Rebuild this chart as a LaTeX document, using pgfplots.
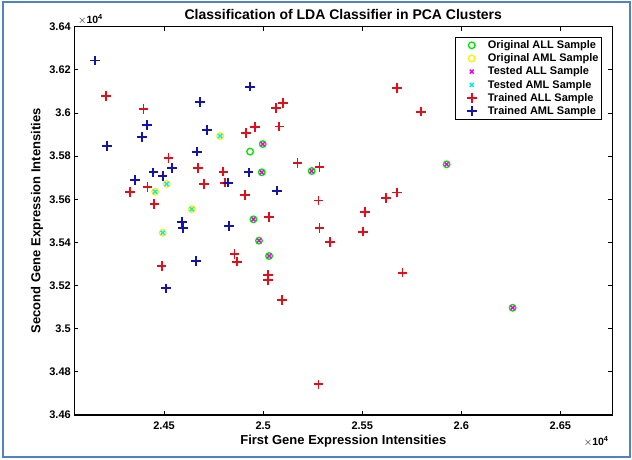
\documentclass[border=0pt]{standalone}
\usepackage{pgfplots}
\pgfplotsset{compat=1.18}
\usepackage{fontspec}
\setmainfont{Liberation Sans}
\definecolor{mblue}{RGB}{20,20,170}
\definecolor{mred}{RGB}{225,15,25}
\definecolor{mgreen}{RGB}{0,225,0}
\definecolor{myellow}{RGB}{250,240,0}
\definecolor{mcyan}{RGB}{0,235,235}
\definecolor{mmag}{RGB}{235,0,235}
\definecolor{frameblue}{RGB}{80,130,195}
\pgfplotsset{mylegimg/.style={legend image code/.code={\path (-5bp,0bp) (22bp,0bp);\draw[mark repeat=2,mark phase=2,##1] plot coordinates {(0bp,0bp) (8bp,0bp) (16bp,0bp)};}}}
\begin{document}
\begin{tikzpicture}
\useasboundingbox (0,0) rectangle (632bp,460bp);
\draw[frameblue, line width=2bp] (2.5bp,2.5bp) rectangle (629.5bp,457.5bp);
\begin{axis}[
  at={(74.3bp,45bp)}, anchor=south west,
  scale only axis, width=538bp, height=388.3bp,
  xmin=2.4047, xmax=2.6762, ymin=3.46, ymax=3.64,
  xtick={2.45,2.5,2.55,2.6,2.65},
  ytick={3.46,3.48,3.5,3.52,3.54,3.56,3.58,3.6,3.62,3.64},
  /pgf/number format/assume math mode=true,
  /pgf/number format/precision=2,
  tick label style={font=\fontsize{11bp}{13bp}\selectfont\bfseries},
  xticklabel style={yshift=-3bp},
  major tick length=4bp,
  tick style={black, line width=0.8pt},
  axis line style={line width=1.2pt},
  xlabel={First Gene Expression Intensities},
  xlabel style={at={(axis description cs:0.5,-0.067)}, anchor=center, font=\fontsize{13bp}{15bp}\selectfont\bfseries},
  ylabel={Second Gene Expression Intensities},
  ylabel style={at={(axis description cs:-0.0693,0.5)}, anchor=center, font=\fontsize{13bp}{15bp}\selectfont\bfseries},
  legend style={at={(axis description cs:0.981,0.9735)}, anchor=north east,
    font=\fontsize{11bp}{12bp}\selectfont\bfseries, draw=black, line width=0.8pt,
    row sep=1.3bp, inner sep=2bp, nodes={inner sep=1.2bp}, cells={anchor=west},
    /tikz/every even column/.append style={column sep=4bp}},
  clip=false,
]
\addplot[only marks, mark=o, mgreen, mark size=3.3bp, line width=1.3bp, mylegimg] coordinates {
(2.4998,3.5856) (2.5245,3.5731) (2.4993,3.5725) (2.5926,3.5762) (2.4951,3.5507)
(2.4979,3.5408) (2.5030,3.5337) (2.6259,3.5097) (2.4934,3.5821)};
\addlegendentry{Original ALL Sample}
\addplot[only marks, mark=o, myellow, mark size=3.3bp, line width=1.3bp, mylegimg] coordinates {
(2.4783,3.5893) (2.4455,3.5635) (2.4513,3.5671) (2.4640,3.5554) (2.4493,3.5445)};
\addlegendentry{Original AML Sample}
\addplot[only marks, mark=x, mmag, mark size=2.8bp, line width=1.4bp, mylegimg] coordinates {
(2.4998,3.5856) (2.5245,3.5731) (2.4993,3.5725) (2.5926,3.5762) (2.4951,3.5507)
(2.4979,3.5408) (2.5030,3.5337) (2.6259,3.5097)};
\addlegendentry{Tested ALL Sample}
\addplot[only marks, mark=x, mcyan, mark size=2.8bp, line width=1.4bp, mylegimg] coordinates {
(2.4783,3.5893) (2.4455,3.5635) (2.4513,3.5671) (2.4640,3.5554) (2.4493,3.5445)};
\addlegendentry{Tested AML Sample}
\addplot[only marks, mark=+, mred, mark size=4.8bp, line width=1.8bp, mylegimg] coordinates {
(2.4206,3.6079) (2.4396,3.6019) (2.4914,3.5906) (2.4959,3.5934) (2.5099,3.6045)
(2.5065,3.6022) (2.5674,3.6115) (2.5082,3.5937) (2.5797,3.6006) (2.4522,3.5790)
(2.4670,3.5744) (2.4799,3.5728) (2.4702,3.5671) (2.4808,3.5677) (2.4416,3.5658)
(2.4328,3.5635) (2.4909,3.5620) (2.5173,3.5767) (2.5284,3.5751) (2.5279,3.5594)
(2.5620,3.5605) (2.5674,3.5631) (2.5514,3.5540) (2.4451,3.5578) (2.5031,3.5517)
(2.4855,3.5346) (2.4867,3.5311) (2.4488,3.5292) (2.5023,3.5249) (2.5023,3.5226)
(2.5094,3.5133) (2.5284,3.5468) (2.5337,3.5403) (2.5505,3.5450) (2.5703,3.5260)
(2.5279,3.4742)};
\addlegendentry{Trained ALL Sample}
\addplot[only marks, mark=+, mblue, mark size=4.8bp, line width=1.8bp, mylegimg] coordinates {
(2.4152,3.6243) (2.4413,3.5944) (2.4389,3.5889) (2.4211,3.5848) (2.4682,3.6052)
(2.4934,3.6122) (2.4718,3.5921) (2.4665,3.5821) (2.4539,3.5744) (2.4446,3.5725)
(2.4493,3.5709) (2.4354,3.5689) (2.4824,3.5677) (2.4927,3.5725) (2.5069,3.5640)
(2.4589,3.5496) (2.4597,3.5468) (2.4829,3.5476) (2.4660,3.5315) (2.4510,3.5187)};
\addlegendentry{Trained AML Sample}
\node[anchor=center, font=\fontsize{14bp}{16bp}\selectfont\bfseries] at (axis description cs:0.5,1.0327) {Classification of LDA Classifier in PCA Clusters};
\node[font=\fontsize{10.5bp}{12bp}\selectfont] at (axis description cs:0.03,1.018) {$\times\mathbf{10^{4}}$};
\node[font=\fontsize{10.5bp}{12bp}\selectfont] at (axis description cs:0.97,-0.068) {$\times\mathbf{10^{4}}$};
\end{axis}
\end{tikzpicture}
\end{document}
